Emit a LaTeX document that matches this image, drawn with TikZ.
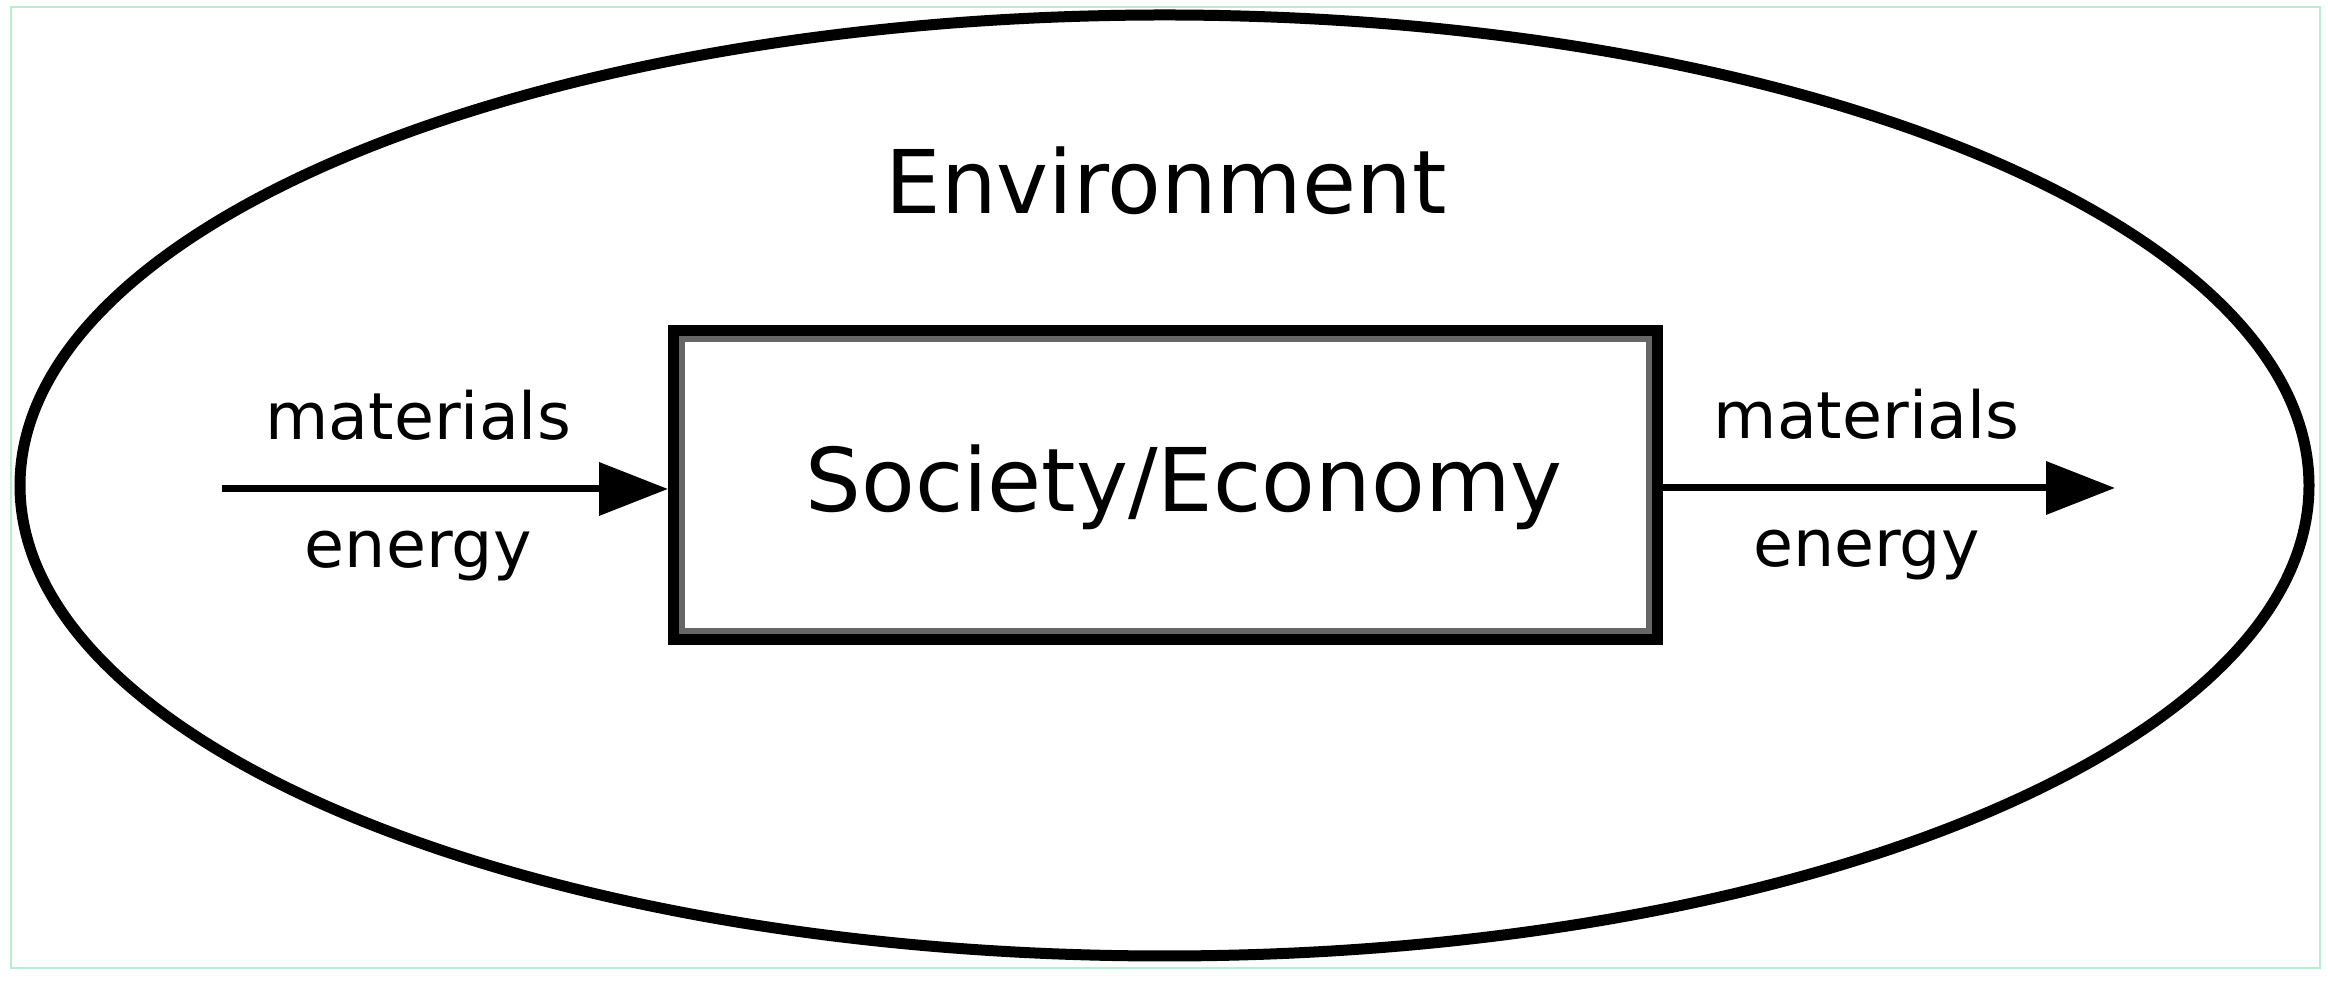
\documentclass[tikz,border=0pt]{standalone}
\usepackage{fontspec}
\setmainfont{DejaVu Sans}
\usetikzlibrary{arrows.meta, positioning}

\definecolor{framegreen}{RGB}{184,238,208}

\begin{document}
\begin{tikzpicture}[>=Triangle,
                    bigtext/.style = {font=\fontsize{25}{30}\selectfont},
                    flowtext/.style = {font=\fontsize{18.5}{22}\selectfont, anchor=base},
                    flow/.style = {line width=0.07cm, -{Triangle[length=0.69cm, width=0.52cm]}}
                   ]

    \useasboundingbox (0,0) rectangle (23.28,9.85);
    \draw[framegreen, line width=0.02cm] (0.11,0.17) rectangle (23.20,9.78);

    % environment
    \draw[line width=0.11cm] (11.645,4.995) ellipse (11.445cm and 4.705cm);
    \node[bigtext, anchor=base] (env) at (11.66,7.71) {Environment};

    % society box
    \node[draw, line width=0.11cm, minimum width=9.84cm, minimum height=3.09cm] (soc) at (11.655,5.0) {};
    \draw[black!60, line width=0.06cm] ([shift={(0.14,-0.14)}]soc.north west) rectangle ([shift={(-0.14,0.14)}]soc.south east);
    \node[bigtext, anchor=base] (soctext) at (11.84,4.73) {Society/Economy};

    \coordinate (inflow) at (2.22,4.96);
    \coordinate (outflow) at (21.15,4.97);

    \draw[flow] (inflow) -- (inflow -| soc.west)
    node[pos=0.44, yshift=0.49cm, flowtext] (matin) {materials}
    node[pos=0.44, yshift=-0.79cm, flowtext] (enin) {energy};

    \draw[flow] (soc.east |- outflow) -- (outflow)
    node[pos=0.45, yshift=0.49cm, flowtext] (matout) {materials}
    node[pos=0.45, yshift=-0.79cm, flowtext] (enout) {energy};

\end{tikzpicture}
\end{document}
